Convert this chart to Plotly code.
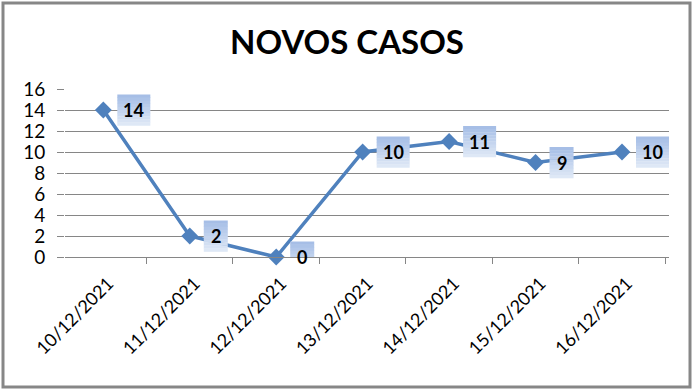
import plotly.graph_objects as go

dates = ["10/12/2021", "11/12/2021", "12/12/2021", "13/12/2021",
         "14/12/2021", "15/12/2021", "16/12/2021"]
cases = [14, 2, 0, 10, 11, 9, 10]
title_text = "NOVOS CASOS"
y_ticks = [0, 2, 4, 6, 8, 10, 12, 14, 16]

W, H = 694, 391
ML, MR, MT, MB = 65, 25, 89, 134
PW, PH = W - ML - MR, H - MT - MB

LINE_C = "#4f81bd"
GRID_C = "#868686"
FONT = "Lato, 'Open Sans', sans-serif"

fig = go.Figure()
fig.add_trace(go.Scatter(
    x=dates, y=cases, mode="lines+markers",
    line=dict(color=LINE_C, width=3.5),
    marker=dict(symbol="diamond", size=13, color=LINE_C),
    cliponaxis=False, hoverinfo="skip", showlegend=False,
))

# gradient label boxes
top = (166, 190, 230)
bot = (222, 232, 246)
n = 10
shapes = []
annotations = []
BOX_H = 31
for d, v in zip(dates, cases):
    txt = str(v)
    bw = 33 if len(txt) > 1 else 24
    x0 = 14
    for i in range(n):
        t = i / (n - 1)
        c = tuple(int(round(top[k] + (bot[k] - top[k]) * t)) for k in range(3))
        ya = BOX_H / 2 - i * BOX_H / n
        yb = BOX_H / 2 - (i + 1) * BOX_H / n
        shapes.append(dict(
            type="rect", xref="x", yref="y",
            xsizemode="pixel", ysizemode="pixel",
            xanchor=d, yanchor=v,
            x0=x0, x1=x0 + bw, y0=yb - 0.3, y1=ya,
            fillcolor="rgb(%d,%d,%d)" % c, line=dict(width=0),
            layer="above",
        ))
    annotations.append(dict(
        x=d, y=v, xref="x", yref="y", text="<b>%s</b>" % txt,
        showarrow=False, xanchor="center", yanchor="middle",
        xshift=x0 + bw / 2, yshift=0,
        font=dict(family=FONT, size=18, color="black"),
    ))

# outer border
shapes.append(dict(
    type="rect", xref="paper", yref="paper",
    x0=(3 - ML) / PW, x1=(690 - ML) / PW,
    y0=(H - MB - 387) / PH, y1=(H - MB - 3) / PH,
    line=dict(color="#878787", width=3), fillcolor="rgba(0,0,0,0)",
    layer="below",
))

fig.update_layout(
    width=W, height=H,
    margin=dict(l=ML, r=MR, t=MT, b=MB, autoexpand=False),
    paper_bgcolor="white", plot_bgcolor="white",
    title=dict(text="<b>%s</b>" % title_text, x=0.5, xanchor="center",
               xref="container", y=1 - 42 / H, yref="container", yanchor="middle",
               font=dict(family=FONT, size=33, color="black")),
    shapes=shapes, annotations=annotations,
    font=dict(family=FONT, color="black"),
)
fig.update_xaxes(
    type="category", tickson="boundaries", ticks="outside", ticklen=6,
    tickcolor=GRID_C, showline=True, linecolor=GRID_C, linewidth=1,
    showgrid=False, tickangle=-45, tickfont=dict(family=FONT, size=18),
    zeroline=False, ticklabelstandoff=8, ticklabelshift=5, automargin=False,
)
fig.update_yaxes(
    range=[0, 16], tickvals=y_ticks, showgrid=True, gridcolor=GRID_C,
    gridwidth=1, ticks="outside", ticklen=7, tickcolor=GRID_C,
    showline=False, zeroline=False, tickfont=dict(family=FONT, size=19),
    ticklabelstandoff=8, automargin=False,
)

fig.write_html("out.html", config={"displayModeBar": False},
               post_script="document.body.style.margin='0';document.body.style.padding='0';")
